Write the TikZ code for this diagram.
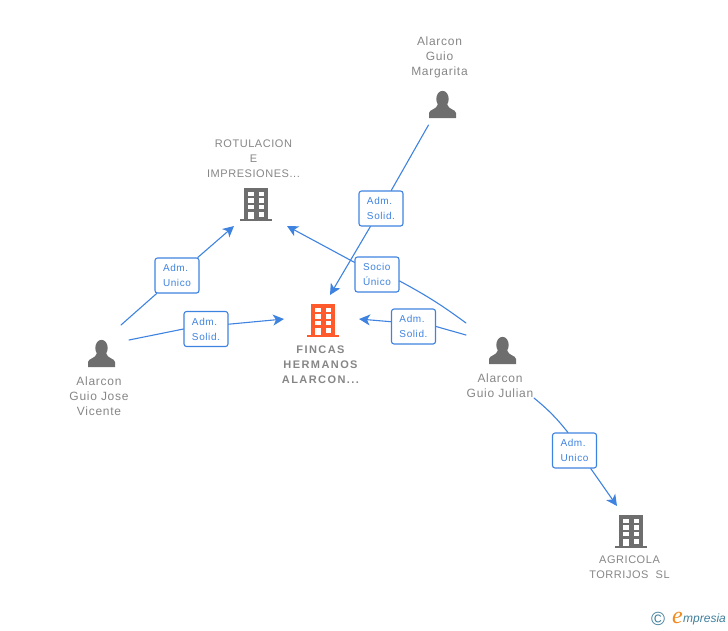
\documentclass[tikz,border=0pt]{standalone}
\usepackage{fontspec}
\setmainfont{Liberation Sans}
\newfontfamily\personfont[LetterSpace=6]{Liberation Sans}
\newfontfamily\firmfont[LetterSpace=5]{Liberation Sans}
\newfontfamily\boldfirmfont[LetterSpace=13]{Liberation Sans Bold}
\newfontfamily\tagfont[LetterSpace=6]{Liberation Sans}
\newfontfamily\logofont{Liberation Serif Italic}
\usetikzlibrary{arrows.meta}
\definecolor{linkBlue}{HTML}{3F83E0}
\definecolor{iconGrey}{HTML}{6E6E6E}
\definecolor{textGrey}{HTML}{868686}
\definecolor{firmOrange}{HTML}{FF5A2B}
\definecolor{logoTeal}{HTML}{3F7F9C}
\definecolor{logoOrange}{HTML}{F28A1E}
\tikzset{
    link/.style={draw=linkBlue, line width=1.1pt},
    arrowLink/.style={link, -{Stealth[length=11pt,width=11pt,inset=3pt]}},
    tagBox/.style={draw=linkBlue, line width=1.1pt, rounded corners=2.5pt, fill=white,
        minimum width=44pt, minimum height=35pt, inner sep=0pt, align=left,
        text=linkBlue, font=\tagfont\fontsize{10}{15}\selectfont},
    personLabel/.style={align=center, inner sep=0pt, text=textGrey,
        font=\personfont\fontsize{12}{15}\selectfont},
    firmLabel/.style={align=center, inner sep=0pt, text=textGrey,
        font=\firmfont\fontsize{11}{15}\selectfont},
    pics/personIcon/.style={code={
        \fill[iconGrey] (0,0) ellipse (6.2 and 8.2);
        \fill[iconGrey] (-13.5,19) -- (-13.5,14) .. controls (-13,10) and (-6,11) .. (-4.5,5)
            -- (4.5,5) .. controls (6,11) and (13,10) .. (13.5,14) -- (13.5,19) -- cycle;
    }},
    pics/firmIcon/.style={code={
        \fill[#1] (-12,0) rectangle (12,31);
        \fill[#1] (-16,30.5) rectangle (16,33);
        \foreach \y in {3.5,10,16.5} {
            \fill[white] (-8,\y) rectangle (-2.5,\y+4.5);
            \fill[white] (2.5,\y) rectangle (8,\y+4.5);
        }
        \fill[white] (-8,23.5) rectangle (-2.5,31);
        \fill[white] (2.5,23.5) rectangle (8,28.5);
    }},
}
\begin{document}
\begin{tikzpicture}[x=1pt, y=-1pt, line cap=round, line join=round]
    \useasboundingbox (0,0) rectangle (728,630);

    % Icons
    \pic at (442.5,99) {personIcon};
    \pic at (502.5,345) {personIcon};
    \pic at (101.5,348) {personIcon};
    \pic at (256,188) {firmIcon=iconGrey};
    \pic at (323,304) {firmIcon=firmOrange};
    \pic at (631,515) {firmIcon=iconGrey};

    % Names
    \node[personLabel] (margarita) at (439.5,57.5) {Alarcon\\Guio\\Margarita};
    \node[personLabel] (julian) at (500,385.5) {Alarcon\\Guio Julian};
    \node[personLabel] (vicente) at (99,396) {Alarcon\\Guio Jose\\Vicente};
    \node[firmLabel] (rotulacion) at (253.5,159) {ROTULACION\\E\\IMPRESIONES...};
    \node[firmLabel, font=\boldfirmfont\fontsize{11}{15}\selectfont] (fincas) at (320.5,365) {FINCAS\\HERMANOS\\ALARCON...};
    \node[firmLabel] (agricola) at (629.5,567.5) {AGRICOLA\\TORRIJOS\ \ SL};

    % Link labels
    \node[tagBox] (tagMargarita) at (381,208.5) {Adm.\\Solid.};
    \node[tagBox] (tagSocio) at (377,274.5) {Socio\\Único};
    \node[tagBox] (tagJulian) at (413.5,326.5) {Adm.\\Solid.};
    \node[tagBox] (tagVicenteR) at (177,275.5) {Adm.\\Unico};
    \node[tagBox] (tagVicenteF) at (206,329) {Adm.\\Solid.};
    \node[tagBox] (tagAgricola) at (574.5,450.5) {Adm.\\Unico};

    % Free ends of the links
    \coordinate (margaritaOut) at (428.5,125);
    \coordinate (julianOutA) at (466,323);
    \coordinate (julianOutB) at (466,335);
    \coordinate (julianOutC) at (534,398);
    \coordinate (vicenteOutA) at (121,325);
    \coordinate (vicenteOutB) at (129,340);
    \coordinate (rotulacionInA) at (234,226);
    \coordinate (rotulacionInB) at (287,226);
    \coordinate (fincasInA) at (330,295);
    \coordinate (fincasInB) at (284,319);
    \coordinate (fincasInC) at (359,319);
    \coordinate (agricolaIn) at (617,506);

    % Links
    \draw[link] (margaritaOut) -- (tagMargarita);
    \draw[arrowLink] (tagMargarita) -- (fincasInA);
    \draw[link] (julianOutA) to[bend right=4] (tagSocio.-16);
    \draw[arrowLink] (tagSocio) -- (rotulacionInB);
    \draw[link] (julianOutB) -- (tagJulian.east);
    \draw[arrowLink] (tagJulian.168) -- (fincasInC);
    \draw[link] (julianOutC) to[bend left=6] (tagAgricola.110);
    \draw[arrowLink] (tagAgricola.-48) -- (agricolaIn);
    \draw[link] (vicenteOutA) -- (tagVicenteR);
    \draw[arrowLink] (tagVicenteR) -- (rotulacionInA);
    \draw[link] (vicenteOutB) -- (tagVicenteF.west);
    \draw[arrowLink] (tagVicenteF.12) -- (fincasInB);

    % Logo
    \node[text=logoTeal, inner sep=0pt, font=\fontsize{19}{19}\selectfont] (logoMark) at (658,619) {\textcopyright};
    \node[text=logoOrange, inner sep=0pt, font=\logofont\fontsize{24}{24}\selectfont] (logoInitial) at (677.5,618) {e};
    \node[text=logoTeal, inner sep=0pt, anchor=west, font=\itshape\fontsize{12}{12}\selectfont] (logoWord) at (683,619.5) {mpresia};
\end{tikzpicture}
\end{document}
